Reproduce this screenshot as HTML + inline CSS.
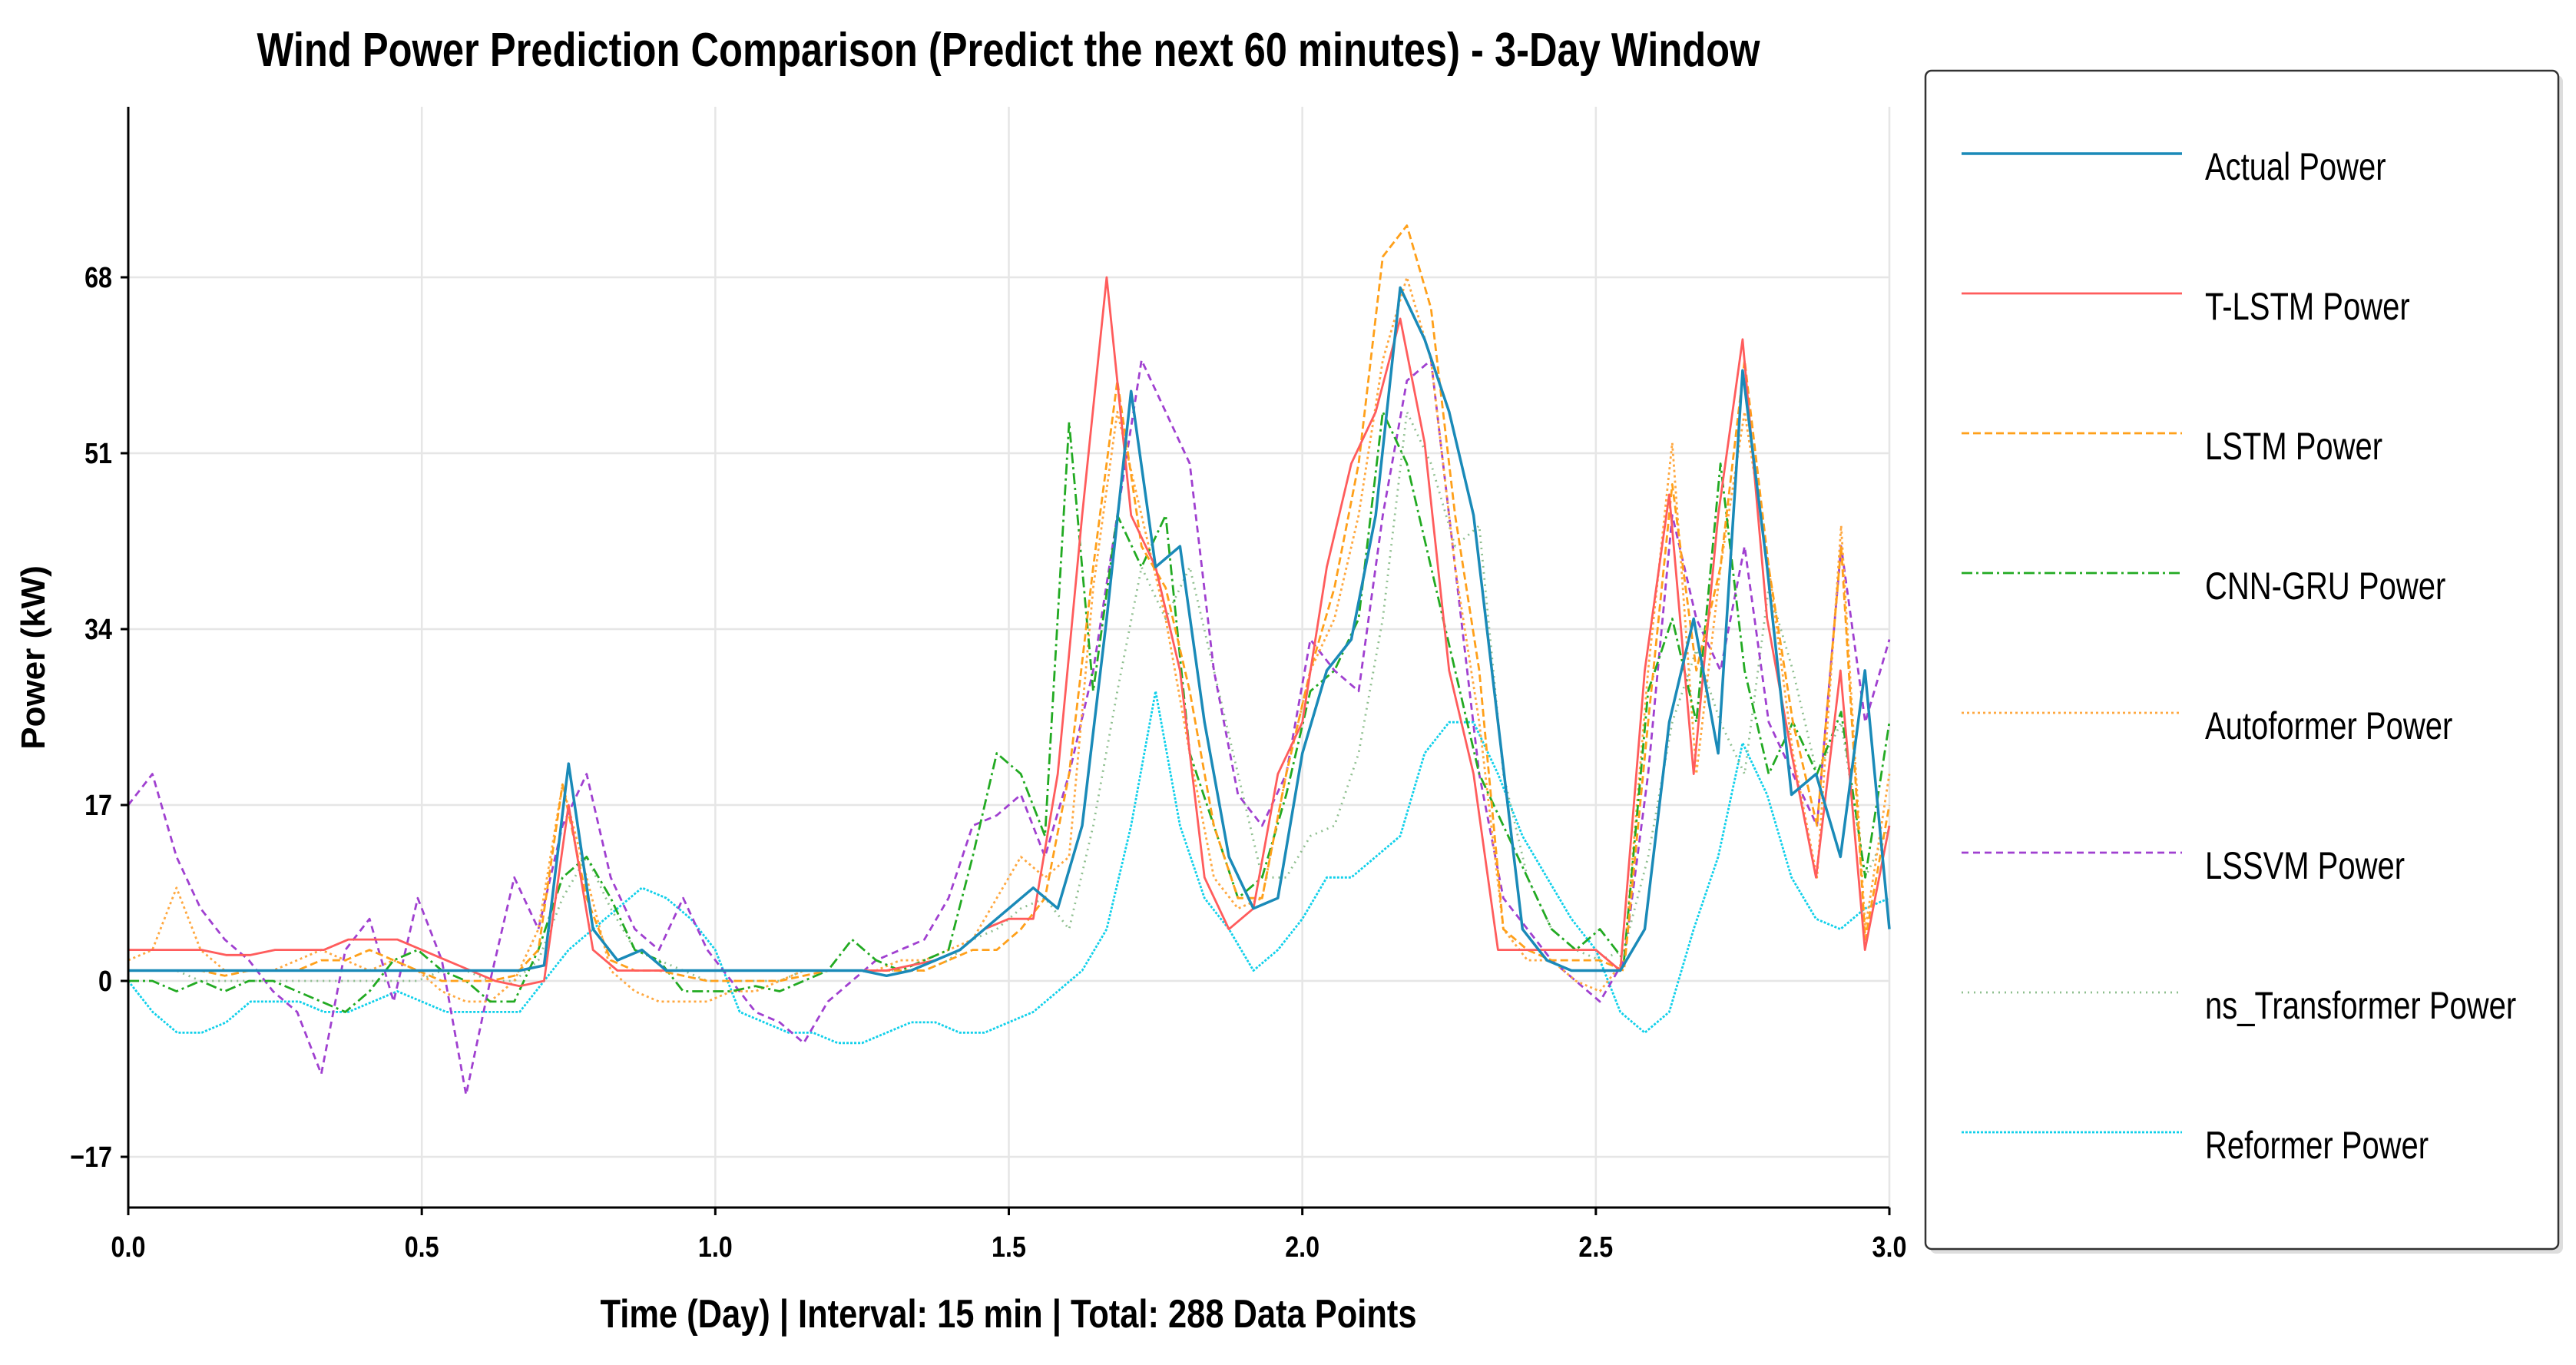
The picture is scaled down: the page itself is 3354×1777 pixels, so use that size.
<!DOCTYPE html>
<html><head><meta charset="utf-8"><style>
html,body{margin:0;padding:0;background:#fff;}
svg{display:block;font-family:"Liberation Sans",sans-serif;}
</style></head><body>
<svg id="chart" width="3354" height="1777" viewBox="0 0 3354 1777" xmlns="http://www.w3.org/2000/svg">
<text x="1313" y="86" text-anchor="middle" font-size="62" font-weight="bold" textLength="1957" lengthAdjust="spacingAndGlyphs">Wind Power Prediction Comparison (Predict the next 60 minutes) - 3-Day Window</text>
<g id="grid"></g>
<g id="series"></g>
<g id="axes"></g>
<text transform="translate(58,856) rotate(-90)" text-anchor="middle" font-size="44" font-weight="bold">Power (kW)</text>
<text x="1313" y="1728" text-anchor="middle" font-size="52" font-weight="bold" textLength="1063" lengthAdjust="spacingAndGlyphs">Time (Day) | Interval: 15 min | Total: 288 Data Points</text>
<rect x="2513" y="98" width="824" height="1534" rx="8" fill="#bbb" opacity="0.5"/>
<rect x="2507" y="92" width="824" height="1534" rx="8" fill="#fff" stroke="#333" stroke-width="2.5"/>
<g id="legend"></g>
</svg>
<script>
const names=["Actual Power","T-LSTM Power","LSTM Power","CNN-GRU Power","Autoformer Power","LSSVM Power","ns_Transformer Power","Reformer Power"];
const xTicks=[0,0.5,1,1.5,2,2.5,3];
const yTicks=[-17,0,17,34,51,68];
const actual=[1,1,1,1,1,1,1,1,1,1,1,1,1,1,1,1,1,1.5,21,5,2,3,1,1,1,1,1,1,1,1,1,0.5,1,2,3,5,7,9,7,15,35,57,40,42,25,12,7,8,22,30,33,45,67,62,55,45,25,5,2,1,1,1,5,25,35,22,59,40,18,20,12,30,5];
const tlstm=[3,3,3,3,2.5,2.5,3,3,3,4,4,4,3,2,1,0,-0.5,0,17,3,1,1,1,1,1,1,1,1,1,1,1,1,1.5,2,3,5,6,6,20,45,68,45,40,30,10,5,7,20,25,40,50,55,64,52,30,20,3,3,3,3,3,1,30,47,20,45,62,35,22,10,30,3,15];
const lstm=[1,1,1,1,0.5,1,1,1,2,2,3,2,1,0,0,0,0.5,3,19,8,2,1,1,0.5,0,0,0,0,0.5,1,1,1,1,1,2,3,3,5,8,20,40,58,42,38,28,15,8,8,20,30,38,50,70,73,65,45,30,5,3,2,2,2,1,25,48,30,40,60,40,25,15,42,4,17];
const cnngru=[0,0,-1,0,-1,0,0,-1,-2,-3,-1,2,3,1,0,-2,-2,3,10,12,8,3,2,-1,-1,-1,-0.5,-1,0,1,4,2,1,2,3,12,22,20,14,54,28,45,40,45,22,15,8,10,18,28,30,35,55,50,40,30,20,15,10,5,3,5,2,28,35,25,50,30,20,25,20,26,10,25];
const autoformer=[2,3,9,3,1,1,1,2,3,2,1,2,1,-1,-2,-2,0,5,19,10,1,-1,-2,-2,-2,-1,-1,0,1,1,1,1,2,2,3,4,8,12,10,12,38,55,45,35,22,10,7,8,20,30,35,45,60,68,60,40,25,5,2,2,0,-1,2,30,52,20,40,55,40,22,10,44,5,20];
const lssvm=[17,20,12,7,4,2,-1,-3,-9,3,6,-2,8,2,-11,0,10,5,15,20,10,5,3,8,3,0,-3,-4,-6,-2,0,2,3,4,8,15,16,18,12,20,30,45,60,55,50,30,18,15,20,33,30,28,45,58,60,40,20,8,5,2,0,-2,2,20,45,35,30,42,25,20,15,42,25,33];
const nstrans=[1,1,1,0,0,0,0,0,0,0,0,0,0,1,1,0,0,2,8,12,7,3,2,1,0,0,0,0,1,1,1,1,1,1,2,4,5,7,8,5,15,28,40,35,40,30,20,10,10,14,15,22,35,55,50,42,44,20,10,5,3,2,3,12,25,32,25,20,38,30,20,25,10,15];
const reformer=[0,-3,-5,-5,-4,-2,-2,-2,-3,-3,-2,-1,-2,-3,-3,-3,-3,0,3,5,7,9,8,6,3,-3,-4,-5,-5,-6,-6,-5,-4,-4,-5,-5,-4,-3,-1,1,5,15,28,15,8,5,1,3,6,10,10,12,14,22,25,25,20,14,10,6,3,-3,-5,-3,5,12,23,18,10,6,5,7,8];
const NS="http://www.w3.org/2000/svg";
const X0=167,X1=2460,YT=139,YB=1572;
const xs=v=>X0+(v/3)*(X1-X0);
const ys=v=>1277-(v/17)*229;
const styles=[
 ["#1a8ab8",3.5,""],["#ff5c5c",2.8,""],["#ffa01a",2.8,"10,5"],["#22aa22",2.8,"14,5,3,5"],
 ["#ffa840",2.8,"3,4"],["#a040d0",2.8,"9,6"],["#8fbf8f",2.8,"2,6"],["#10d0ea",2.8,"3,2"]];
const data=[actual,tlstm,lstm,cnngru,autoformer,lssvm,nstrans,reformer];
const grid=document.getElementById('grid');
function mk(tag,attrs,parent){const e=document.createElementNS(NS,tag);for(const k in attrs)e.setAttribute(k,attrs[k]);parent.appendChild(e);return e;}
xTicks.forEach(t=>{const l=mk('line',{x1:xs(t),x2:xs(t),y1:YT,y2:YB,stroke:'#e6e6e6','stroke-width':2.5},grid);

});
yTicks.forEach(t=>{const l=mk('line',{x1:X0,x2:X1,y1:ys(t),y2:ys(t),stroke:'#e6e6e6','stroke-width':2.5},grid);

});
const sg=document.getElementById('series');
[7,6,5,4,3,2,1,0].forEach(k=>{const arr=data[k];const n=arr.length;
 const d=arr.map((v,i)=>(i?'L':'M')+xs(i*3/(n-1)).toFixed(1)+','+ys(v).toFixed(1)).join('');
 const p=mk('path',{d:d,fill:'none',stroke:styles[k][0],'stroke-width':styles[k][1],'stroke-dasharray':styles[k][2],'stroke-linejoin':'round'},sg);
 
 });
const ax=document.getElementById('axes');
mk('line',{x1:X0,x2:X0,y1:YT,y2:YB,stroke:'#000','stroke-width':3},ax);
mk('line',{x1:X0,x2:X1,y1:YB,y2:YB,stroke:'#000','stroke-width':3},ax);
xTicks.forEach(t=>{mk('line',{x1:xs(t),x2:xs(t),y1:YB,y2:YB+10,stroke:'#000','stroke-width':3},ax);
 const tx=mk('text',{x:xs(t),y:1636,'text-anchor':'middle','font-size':38,'font-weight':'bold',transform:'translate('+xs(t)+',0) scale(0.85,1) translate('+(-xs(t))+',0)'},ax);tx.textContent=t.toFixed(1);
 
 });
yTicks.forEach(t=>{mk('line',{x1:X0-10,x2:X0,y1:ys(t),y2:ys(t),stroke:'#000','stroke-width':3},ax);
 const tx=mk('text',{x:146,y:ys(t)+13,'text-anchor':'end','font-size':38,'font-weight':'bold',transform:'translate(146,0) scale(0.85,1) translate(-146,0)'},ax);tx.textContent=t<0?'\u2212'+(-t):String(t);
 
 });
const lg=document.getElementById('legend');
names.forEach((nm,k)=>{const y=200+k*182;
 const g=mk('g',{},lg);
 
 
 mk('line',{x1:2554,x2:2841,y1:y,y2:y,stroke:styles[k][0],'stroke-width':styles[k][1],'stroke-dasharray':styles[k][2]},g);
 const t=mk('text',{x:2871,y:y+34,'font-size':50,transform:'translate(2871,0) scale(0.8,1) translate(-2871,0)'},g);t.textContent=nm;});
</script>
</body></html>
